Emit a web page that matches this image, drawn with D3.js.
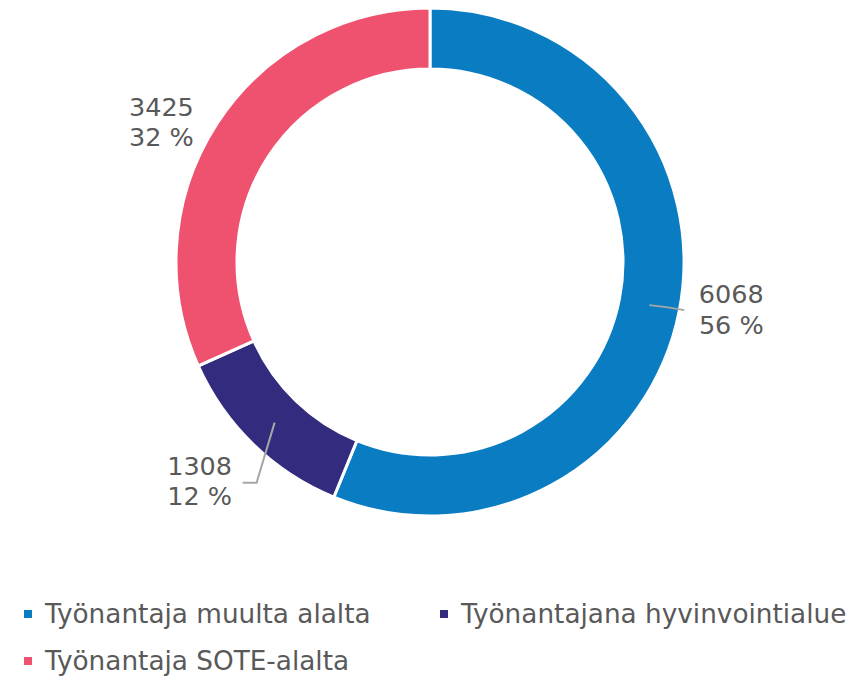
<!DOCTYPE html>
<html>
<head>
<meta charset="utf-8">
<script src="https://cdn.jsdelivr.net/npm/d3@7"></script>
<style>
  html, body { margin: 0; padding: 0; background: #fff; }
  svg { display: block; font-family: "DejaVu Sans", Verdana, sans-serif; }
</style>
</head>
<body>
<svg id="chart" width="866" height="679"></svg>
<script>
// ---- data ----
const categories = ["Työnantaja muulta alalta", "Työnantajana hyvinvointialue", "Työnantaja SOTE-alalta"];
const values = [6068, 1308, 3425];
const percentLabels = ["56 %", "12 %", "32 %"];
const colors = ["#0A7CC1", "#332C7E", "#EF526E"];

// ---- layout ----
const W = 866, H = 679;
const cx = 430, cy = 262;
const outerR = 254, innerR = 193;
const textColor = "#595959";
const fontSize = 25.5;
const legendFontSize = 26.3;

const svg = d3.select("#chart");
const g = svg.append("g").attr("transform", `translate(${cx},${cy})`);

const pie = d3.pie().sort(null).value(d => d)(values);
const arc = d3.arc().innerRadius(innerR).outerRadius(outerR);

g.selectAll("path.slice")
  .data(pie)
  .join("path")
  .attr("class", "slice")
  .attr("d", arc)
  .attr("fill", (d, i) => colors[i])
  .attr("stroke", "#fff")
  .attr("stroke-width", 3);

// label placement relative to each arc's centroid
const labelLayout = [
  { leader: [[0, 0], [17, 2], [35, 5]], text: [82, 0] },
  { leader: [[0, 0], [-18, 60], [-32, 60]], text: [-75, 54] },
  { leader: null, text: [-81, -23] }
];

pie.forEach((d, i) => {
  const [x0, y0] = arc.centroid(d);
  const L = labelLayout[i];
  if (L.leader) {
    g.append("path")
      .attr("d", d3.line()(L.leader.map(p => [x0 + p[0], y0 + p[1]])))
      .attr("fill", "none")
      .attr("stroke", "#A6A6A6")
      .attr("stroke-width", 2);
  }
  const t = g.append("text")
    .attr("x", x0 + L.text[0])
    .attr("y", y0 + L.text[1])
    .attr("text-anchor", "middle")
    .attr("fill", textColor)
    .style("font-size", fontSize + "px");
  t.append("tspan").attr("x", x0 + L.text[0]).attr("dy", "-0.08em").text(values[i]);
  t.append("tspan").attr("x", x0 + L.text[0]).attr("dy", "1.2em").text(percentLabels[i]);
});

// ---- legend ----
const legendPos = [[24, 623], [440, 623], [24, 670]];
const legend = svg.append("g");
categories.forEach((c, i) => {
  const [lx, ly] = legendPos[i];
  legend.append("rect")
    .attr("x", lx).attr("y", ly - 13)
    .attr("width", 8).attr("height", 8)
    .attr("fill", colors[i]);
  legend.append("text")
    .attr("x", lx + 21).attr("y", ly)
    .attr("fill", textColor)
    .style("font-size", legendFontSize + "px")
    .text(c);
});
</script>
</body>
</html>
